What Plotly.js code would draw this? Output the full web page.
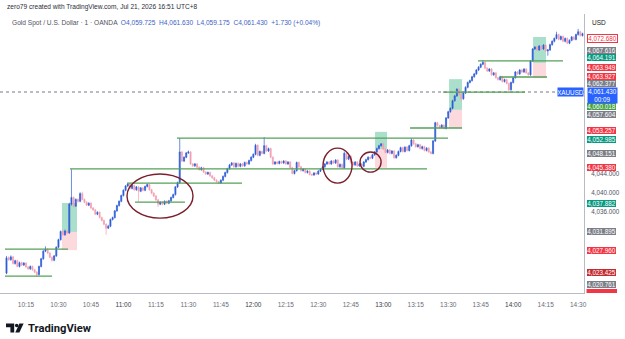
<!DOCTYPE html>
<html><head><meta charset="utf-8">
<script src="https://cdn.plot.ly/plotly-3.0.1.min.js"></script>
<style>html,body{margin:0;padding:0;background:#fff}#chart{width:625px;height:339px}</style>
</head><body><div id="chart"></div>
<script>
// ---------- DATA (XAUUSD 1-minute, 10:06 .. 14:32) ----------
const startMinute = 10 * 60 + 6;
const firstOpen = 4023.2;
const closes = [
 4026.4,4026.0,4026.6,4025.2,4025.8,4024.6,4025.4,4024.9,4025.3,4024.5,4024.1,4024.6,4023.9,4023.4,4022.9,
 4024.6,4026.2,4027.8,4028.2,4027.4,4026.5,4025.9,4026.8,4028.6,4030.2,4031.9,4031.2,4032.0,4031.6,4037.6,
 4039.0,4037.2,4038.6,4038.2,4039.8,4038.6,4038.0,4037.4,4037.8,4036.8,4036.4,4035.5,4035.9,4034.8,4034.2,
 4033.4,4032.6,4033.0,4034.4,4034.8,4036.2,4037.3,4038.2,4039.4,4040.5,4041.4,4041.8,4040.9,4041.5,4040.6,
 4041.2,4040.3,4041.0,4040.5,4041.3,4041.7,4040.6,4039.9,4039.3,4038.5,4037.6,4038.0,4037.6,4038.2,4037.8,
 4038.3,4039.0,4039.6,4041.2,4042.1,4048.5,4046.6,4047.4,4048.3,4048.5,4046.0,4045.6,4046.0,4045.3,4044.8,
 4045.2,4044.3,4043.9,4044.2,4043.5,4043.1,4042.6,4042.3,4042.0,4042.6,4043.4,4044.2,4045.0,4045.8,4046.2,
 4045.4,4046.1,4045.5,4046.0,4045.6,4046.3,4046.0,4046.7,4047.4,4048.0,4049.9,4047.8,4048.6,4048.2,4049.8,
 4048.7,4049.2,4047.4,4046.0,4046.4,4046.1,4046.5,4046.2,4046.6,4046.0,4046.4,4045.2,4044.0,4044.6,4046.3,
 4045.4,4044.6,4044.9,4044.2,4044.5,4043.8,4043.7,4044.1,4043.9,4044.5,4044.9,4045.4,4046.0,4046.4,4046.0,
 4046.6,4046.2,4046.8,4045.4,4045.9,4045.2,4048.2,4047.0,4047.6,4046.3,4045.8,4046.4,4045.6,4046.0,4045.5,
 4046.4,4046.9,4047.4,4047.2,4047.9,4048.5,4049.2,4049.8,4050.2,4049.1,4048.4,4048.9,4048.2,4048.7,4047.3,
 4047.8,4048.6,4049.4,4048.6,4049.5,4048.8,4049.8,4051.0,4050.2,4049.6,4050.0,4049.2,4049.6,4048.8,4049.3,
 4048.5,4048.2,4050.8,4054.6,4054.0,4053.6,4054.1,4053.4,4055.6,4056.9,4057.6,4059.2,4060.2,4061.6,4060.5,
 4059.6,4060.8,4062.0,4063.0,4063.4,4064.2,4064.8,4065.6,4066.2,4066.8,4067.2,4066.0,4065.4,4065.8,4064.6,
 4065.0,4064.0,4063.6,4064.2,4063.2,4063.6,4062.8,4061.5,4063.0,4064.0,4065.2,4064.8,4065.6,4065.2,4065.8,
 4065.0,4064.6,4067.5,4070.0,4070.4,4069.8,4070.6,4070.0,4070.8,4069.6,4069.8,4070.9,4071.6,4072.2,4073.0,
 4072.0,4072.6,4071.6,4072.2,4071.2,4071.8,4072.5,4072.0,4073.0,4073.6,4072.8,4073.2
];
const highs = [
 4026.8,4026.7,4026.9,4026.8,4026.0,4026.0,4025.6,4025.6,4025.5,4025.5,4024.7,4024.8,4024.8,4024.1,4023.6,
 4024.8,4026.4,4028.0,4028.8,4028.4,4027.6,4026.7,4027.0,4028.8,4030.4,4032.1,4032.2,4032.3,4032.2,4037.9,
 4044.9,4039.2,4038.8,4038.8,4040.1,4040.2,4038.8,4038.2,4038.0,4038.0,4037.0,4036.6,4036.1,4036.1,4035.0,
 4034.4,4033.6,4033.3,4034.6,4035.0,4036.4,4037.5,4038.4,4039.6,4040.7,4041.6,4042.0,4042.0,4041.7,4041.7,
 4041.4,4041.4,4041.2,4041.2,4041.5,4041.9,4041.8,4040.8,4040.1,4039.5,4038.7,4038.2,4038.2,4038.4,4038.4,
 4038.5,4039.2,4039.8,4041.4,4042.3,4051.4,4048.7,4047.6,4048.5,4048.8,4048.7,4046.2,4046.2,4046.2,4045.5,
 4045.4,4045.4,4044.5,4044.4,4044.4,4043.7,4043.3,4042.8,4042.5,4042.8,4043.6,4044.4,4045.2,4046.0,4046.4,
 4046.4,4046.3,4046.3,4046.2,4046.2,4046.5,4046.5,4046.9,4047.6,4048.2,4050.2,4050.1,4048.8,4048.8,4051.6,
 4050.0,4049.4,4049.4,4047.6,4046.6,4046.6,4046.7,4046.7,4046.8,4046.8,4046.6,4046.6,4045.4,4044.8,4046.5,
 4046.5,4045.6,4045.1,4045.1,4044.7,4044.7,4044.0,4044.3,4044.3,4044.7,4045.1,4045.6,4046.2,4046.6,4046.6,
 4046.8,4046.8,4047.0,4047.0,4046.1,4046.1,4048.6,4048.4,4047.8,4047.8,4046.5,4046.6,4046.6,4046.2,4046.2,
 4046.6,4047.1,4047.6,4047.6,4048.1,4048.7,4049.4,4050.0,4050.3,4050.4,4049.3,4049.1,4049.1,4048.9,4048.9,
 4048.0,4048.8,4049.6,4049.6,4049.7,4049.7,4050.0,4051.4,4051.2,4050.4,4050.2,4050.2,4049.8,4049.8,4049.5,
 4049.5,4048.7,4051.0,4054.8,4054.8,4054.2,4054.3,4054.3,4055.8,4057.1,4057.8,4059.4,4060.4,4061.8,4061.8,
 4060.7,4061.0,4062.2,4063.2,4063.6,4064.4,4065.0,4065.8,4066.4,4067.0,4067.7,4067.4,4066.2,4066.0,4066.0,
 4065.2,4065.2,4064.2,4064.4,4064.4,4063.8,4063.8,4063.0,4063.2,4064.2,4065.4,4065.4,4065.8,4065.8,4066.0,
 4066.0,4065.2,4067.7,4070.2,4070.6,4070.6,4070.8,4070.8,4071.0,4071.0,4070.0,4071.1,4071.8,4072.4,4073.6,
 4073.2,4072.8,4072.8,4072.4,4072.4,4072.0,4072.7,4072.7,4073.2,4074.2,4073.8,4073.4
];
const lows = [
 4023.0,4025.8,4025.8,4025.0,4025.0,4024.4,4024.4,4024.7,4024.7,4024.3,4023.9,4023.9,4023.7,4023.2,4022.4,
 4022.7,4024.4,4026.0,4027.6,4027.2,4026.3,4025.6,4025.7,4026.6,4028.4,4030.0,4031.0,4031.0,4031.3,4031.4,
 4037.3,4036.9,4037.0,4037.9,4038.0,4038.4,4037.8,4037.2,4037.2,4036.6,4036.2,4035.3,4035.3,4034.6,4034.0,
 4033.2,4031.2,4032.4,4032.8,4034.2,4034.6,4036.0,4037.1,4038.0,4039.2,4040.3,4041.2,4040.7,4040.7,4040.4,
 4040.4,4038.1,4040.1,4040.3,4040.3,4041.1,4040.4,4039.7,4039.1,4038.3,4037.0,4037.4,4037.4,4037.4,4037.6,
 4037.6,4038.1,4038.8,4039.4,4041.0,4041.9,4046.4,4046.4,4047.2,4048.1,4045.8,4045.4,4045.4,4045.1,4044.6,
 4044.6,4044.1,4043.7,4043.7,4043.3,4042.9,4042.4,4042.1,4041.8,4041.9,4042.4,4043.2,4044.0,4044.8,4045.6,
 4045.2,4045.2,4045.3,4045.3,4045.4,4045.4,4045.8,4045.8,4046.5,4047.2,4047.8,4047.6,4047.6,4048.0,4048.0,
 4048.5,4048.5,4047.2,4045.8,4045.8,4045.9,4045.9,4046.0,4046.0,4045.8,4045.8,4045.0,4043.8,4043.8,4044.4,
 4045.2,4044.4,4044.4,4044.0,4044.0,4043.6,4043.5,4043.5,4043.7,4043.7,4044.3,4044.7,4045.2,4045.8,4045.8,
 4045.8,4046.0,4046.0,4045.2,4045.2,4045.0,4045.0,4046.8,4046.8,4046.1,4045.6,4045.6,4045.4,4045.4,4045.2,
 4045.3,4046.2,4046.7,4047.0,4047.0,4047.7,4048.3,4049.0,4049.6,4048.9,4048.2,4048.2,4048.0,4048.0,4047.1,
 4047.1,4047.6,4048.4,4048.4,4048.4,4048.6,4048.6,4049.6,4050.0,4049.4,4049.4,4049.0,4049.0,4048.6,4048.6,
 4048.3,4048.0,4048.0,4050.6,4053.8,4053.4,4053.4,4053.2,4053.2,4055.4,4056.7,4057.4,4059.0,4060.0,4060.3,
 4059.2,4059.4,4060.6,4061.8,4062.8,4063.2,4064.0,4064.6,4065.4,4066.0,4066.6,4065.8,4065.2,4065.2,4064.4,
 4064.4,4063.8,4063.4,4063.4,4063.0,4063.0,4062.6,4061.0,4061.3,4062.8,4063.8,4064.6,4064.6,4065.0,4065.0,
 4064.8,4064.4,4064.4,4067.3,4069.8,4069.6,4069.6,4069.8,4069.8,4069.4,4068.6,4069.6,4070.7,4071.4,4072.0,
 4071.8,4071.8,4071.4,4071.4,4071.0,4071.0,4071.6,4071.8,4071.8,4072.8,4072.6,4072.6
];
const timeTicks = ['10:15','10:30','10:45','11:00','11:15','11:30','11:45','12:00','12:15','12:30','12:45','13:00','13:15','13:30','13:45','14:00','14:15','14:30'];
const priceTicks = [4036, 4040, 4044];
const currentPrice = 4061.0;

// right-hand price tags
const tagTexts  = ['4,072.680','4,067.616','4,064.191','4,063.949','4,063.927','4,062.377','4,060.018','4,057.604','4,053.257','4,052.985','4,048.151','4,045.380','4,037.882','4,031.895','4,027.960','4,023.425','4,020.761'];
const tagPrices = [4072.1,4069.65,4068.2,4066.2,4064.2,4062.7,4057.9,4056.3,4052.9,4051.2,4048.1,4045.2,4037.8,4031.9,4028.0,4023.4,4020.9];
const tagKinds  = ['outline','grey','teal','red','red','grey','green','grey','red','teal','grey','red','teal','grey','red','darkred','grey'];

// drawings (time, price)
const levelFrom  = ['10:05:18','10:05:18','10:35:19','11:24:45','11:01:39','11:05:21','13:12:22','13:27:37','13:53:56','13:43:46'];
const levelTo    = ['10:27:01','10:34:24','13:20:13','13:29:55','11:54:46','11:28:26','13:36:23','14:05:28','14:15:38','14:23:00'];
const levelPrice = [4022.6,4028.2,4044.95,4051.4,4042.0,4038.05,4053.5,4061.0,4064.15,4067.5];

const posFrom   = ['10:31:38','12:56:12','13:30:23','14:09:11'];
const posTo     = ['10:38:34','13:01:44','13:36:23','14:15:11'];
const posTarget = [4037.85,4052.7,4063.7,4072.5];
const posEntry  = [4031.8,4049.1,4057.3,4067.1];
const posStop   = [4028.0,4045.2,4053.5,4063.9];

const ringFrom = ['11:01:39','12:32:11','12:49:16'];
const ringTo   = ['11:32:08','12:45:35','12:59:00'];
const ringLow  = [4034.7,4042.0,4044.3];
const ringHigh = [4043.9,4049.3,4048.5];

// ---------- BUILD ----------
const DAY = '2026-07-21 ';
const pad = n => (n < 10 ? '0' : '') + n;
const t = s => DAY + s;
const times = closes.map((_, i) => { const m = startMinute + i; return DAY + pad(Math.floor(m / 60)) + ':' + pad(m % 60) + ':00'; });
const opens = closes.map((_, i) => i === 0 ? firstOpen : closes[i - 1]);
const hi = highs.map((h, i) => Math.max(h, opens[i], closes[i]));
const lo = lows.map((l, i) => Math.min(l, opens[i], closes[i]));

const UP = '#2d5bd6', DOWN = '#f39db2';
const trace = {
  type: 'candlestick', x: times, open: opens, high: hi, low: lo, close: closes,
  increasing: { line: { color: UP, width: 0.7 }, fillcolor: UP },
  decreasing: { line: { color: DOWN, width: 0.7 }, fillcolor: DOWN },
  whiskerwidth: 0, hoverinfo: 'skip', showlegend: false
};

// plot area in pixels: x 0..584, y 14..293
const PX = px => px / 584, PY = py => (293 - py) / 279;

const shapes = [];
posFrom.forEach((f, i) => {
  shapes.push({ type: 'rect', xref: 'x', yref: 'y', x0: t(f), x1: t(posTo[i]), y0: posEntry[i], y1: posTarget[i], fillcolor: 'rgba(32,170,120,0.38)', line: { width: 0 }, layer: 'below' });
  shapes.push({ type: 'rect', xref: 'x', yref: 'y', x0: t(f), x1: t(posTo[i]), y0: posStop[i], y1: posEntry[i], fillcolor: 'rgba(242,80,100,0.22)', line: { width: 0 }, layer: 'below' });
});
shapes.push({ type: 'line', xref: 'paper', yref: 'y', x0: 0, x1: 1, y0: currentPrice, y1: currentPrice, line: { color: '#a3a7b0', width: 1.5, dash: 'dot' } });
levelFrom.forEach((f, i) => {
  shapes.push({ type: 'line', xref: 'x', yref: 'y', x0: t(f), x1: t(levelTo[i]), y0: levelPrice[i], y1: levelPrice[i], line: { color: '#55a058', width: 1.3 } });
});
ringFrom.forEach((f, i) => {
  shapes.push({ type: 'circle', xref: 'x', yref: 'y', x0: t(f), x1: t(ringTo[i]), y0: ringLow[i], y1: ringHigh[i], line: { color: '#7b1f2c', width: 1.4 }, fillcolor: 'rgba(0,0,0,0)' });
});
// clipped tag at bottom of price scale
shapes.push({ type: 'rect', xref: 'paper', yref: 'paper', x0: PX(586.5), x1: PX(617), y0: PY(293), y1: PY(289), fillcolor: '#f23645', line: { width: 0 } });
// TradingView logo mark
const pathOf = pts => 'M' + pts.map(p => PX(p[0]).toFixed(5) + ',' + PY(p[1]).toFixed(5)).join(' L') + ' Z';
shapes.push({ type: 'path', xref: 'paper', yref: 'paper', path: pathOf([[6,323.5],[14.2,323.5],[14.2,332.5],[10.4,332.5],[10.4,327.2],[6,327.2]]), fillcolor: '#131722', line: { width: 0 } });
shapes.push({ type: 'circle', xref: 'paper', yref: 'paper', x0: PX(14.9), x1: PX(18.5), y0: PY(327.3), y1: PY(323.7), fillcolor: '#131722', line: { width: 0 } });
shapes.push({ type: 'path', xref: 'paper', yref: 'paper', path: pathOf([[19.4,323.5],[23.6,323.5],[19.4,332.5],[15.3,332.5]]), fillcolor: '#131722', line: { width: 0 } });

const tagColor = { grey: '#7b7e87', teal: '#089981', red: '#f23645', darkred: '#c42b30', green: '#43a047', outline: '#ffffff' };
const annotations = [];
tagTexts.forEach((txt, i) => {
  const k = tagKinds[i];
  annotations.push({
    xref: 'paper', yref: 'y', x: PX(586.5), xanchor: 'left', y: tagPrices[i], yanchor: 'middle',
    text: txt, showarrow: false, width: 29, height: 7, align: 'center', borderpad: 0,
    bgcolor: tagColor[k], bordercolor: k === 'outline' ? '#f23645' : tagColor[k], borderwidth: k === 'outline' ? 1 : 0,
    font: { size: 6.3, color: k === 'outline' ? '#f23645' : '#ffffff' }
  });
});
annotations.push({ xref: 'paper', yref: 'y', x: PX(586.5), xanchor: 'left', y: 4060.35, yanchor: 'middle', text: '4,061.430<br>00:09', showarrow: false, width: 29, height: 15, align: 'center', borderpad: 0, bgcolor: '#2962ff', font: { size: 6.3, color: '#fff' } });
annotations.push({ xref: 'paper', yref: 'y', x: PX(584), xanchor: 'right', y: 4061.1, yanchor: 'middle', text: 'XAUUSD', showarrow: false, width: 25, height: 8, align: 'center', borderpad: 0, bgcolor: '#2962ff', font: { size: 6.3, color: '#fff' } });
annotations.push({ xref: 'paper', yref: 'paper', x: PX(590), xanchor: 'left', y: PY(23), yanchor: 'middle', text: 'USD', showarrow: false, font: { size: 6.5, color: '#131722' } });
annotations.push({ xref: 'paper', yref: 'paper', x: PX(5), xanchor: 'left', y: PY(7), yanchor: 'middle', text: 'zero79 created with TradingView.com, Jul 21, 2026 16:51 UTC+8', showarrow: false, font: { size: 6.6, color: '#2a2e39' } });
annotations.push({ xref: 'paper', yref: 'paper', x: PX(9.5), xanchor: 'left', y: PY(22.5), yanchor: 'middle',
  text: 'Gold Spot / U.S. Dollar · 1 · OANDA  <span style="color:#3e63c4">O4,059.725  H4,061.630  L4,059.175  C4,061.430  +1.730 (+0.04%)</span>',
  showarrow: false, font: { size: 6.6, color: '#50535e' } });
annotations.push({ xref: 'paper', yref: 'paper', x: PX(25.5), xanchor: 'left', y: PY(328), yanchor: 'middle', text: 'TradingView', showarrow: false, font: { size: 11.2, color: '#131722', family: 'Roboto, Liberation Sans, Arial', weight: 700 } });

const layout = {
  width: 625, height: 339,
  margin: { l: 0, r: 41, t: 14, b: 46, pad: 0 },
  paper_bgcolor: '#ffffff', plot_bgcolor: '#ffffff',
  font: { family: 'Liberation Sans, Arial, sans-serif', color: '#333' },
  showlegend: false,
  xaxis: {
    type: 'date', range: [t('10:03:00'), t('14:32:42')], rangeslider: { visible: false },
    showgrid: false, zeroline: false, showline: true, linecolor: '#b8bbc2', linewidth: 1,
    tickmode: 'array', tickvals: timeTicks.map(s => t(s + ':00')),
    ticktext: timeTicks.map(s => s.endsWith(':00') ? '<span style="color:#3a3d48">' + s + '</span>' : s),
    ticks: 'outside', ticklen: 5, tickcolor: 'rgba(0,0,0,0)', tickfont: { size: 6.5, color: '#6a6d78' }
  },
  yaxis: {
    side: 'right', range: [4019.06, 4077.3], showgrid: false, zeroline: false,
    showline: true, linecolor: '#b8bbc2', linewidth: 1,
    tickmode: 'array', tickvals: priceTicks, ticktext: priceTicks.map(v => v.toLocaleString('en-US', { minimumFractionDigits: 3 })),
    ticks: 'outside', ticklen: 5, tickcolor: 'rgba(0,0,0,0)', tickfont: { size: 6.3, color: '#50535e' }
  },
  shapes: shapes, annotations: annotations
};
Plotly.newPlot('chart', [trace], layout, { displayModeBar: false, staticPlot: true });
</script></body></html>
